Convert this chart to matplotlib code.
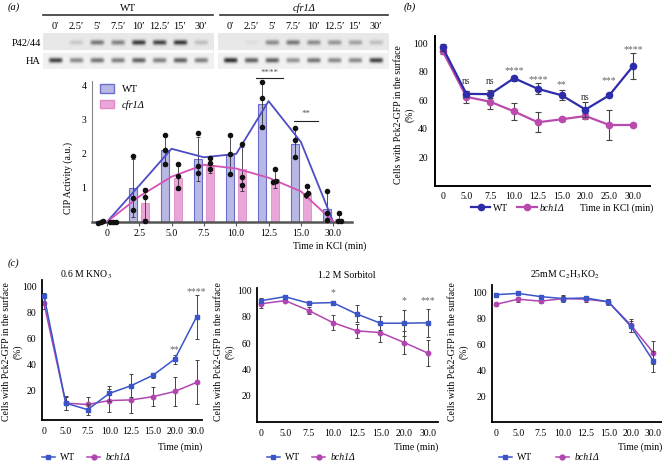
import numpy as np
import matplotlib.pyplot as plt
from matplotlib.patches import Patch
from matplotlib.lines import Line2D
from matplotlib.transforms import blended_transform_factory

plt.rcParams['font.family'] = ['Liberation Serif', 'DejaVu Serif']
plt.rcParams['mathtext.fontset'] = 'stix'
plt.rcParams['font.size'] = 7

# ---- (a) western blot: band darkness per lane (0 = no band)
lane_labels = ["0′", "2.5′", "5′", "7.5′", "10′", "12.5′", "15′", "30′"]
wt_p42 = [0.0, 0.15, 0.55, 0.5, 0.85, 0.8, 0.85, 0.2]
wt_ha = [0.85, 0.5, 0.6, 0.55, 0.7, 0.55, 0.7, 0.55]
ko_p42 = [0.0, 0.05, 0.45, 0.55, 0.45, 0.4, 0.35, 0.2]
ko_ha = [0.95, 0.7, 0.7, 0.45, 0.6, 0.5, 0.5, 0.85]

# ---- (a) CIP activity
cip_times = ["0", "2.5", "5.0", "7.5", "10.0", "12.5", "15.0", "30.0"]
cip_wt_mean = [0.01, 1.0, 2.1, 1.85, 1.97, 3.45, 2.3, 0.38]
cip_wt_err = [0.02, 0.85, 0.45, 0.65, 0.55, 0.72, 0.42, 0.5]
cip_ko_mean = [0.01, 0.55, 1.3, 1.65, 1.55, 1.25, 0.85, 0.08]
cip_ko_err = [0.02, 0.45, 0.35, 0.2, 0.65, 0.25, 0.15, 0.12]
cip_wt_dots = [[-0.02, 0.0, 0.02], [0.35, 0.7, 1.95], [1.7, 2.1, 2.55], [1.45, 1.65, 2.6],
               [1.4, 2.0, 2.55], [2.8, 3.65, 4.1], [1.9, 2.4, 2.75], [0.05, 0.25, 0.9]]
cip_ko_dots = [[-0.01, 0.0, 0.01], [0.03, 0.72, 0.95], [1.0, 1.35, 1.7], [1.55, 1.72, 1.88],
               [1.1, 1.32, 2.3], [1.18, 1.2, 1.55], [0.8, 0.85, 1.05], [0.03, 0.04, 0.27]]
cip_wt_line = [0.0, 1.07, 2.15, 1.9, 2.0, 3.55, 2.35, 0.0]
cip_ko_line = [0.0, 0.75, 1.33, 1.68, 1.57, 1.3, 0.9, 0.02]

# ---- (b) KCl surface localisation
b_times = ["0", "5.0", "7.5", "10.0", "12.5", "15.0", "20.0", "25.0", "30.0"]
b_wt = [97, 64.5, 64.3, 75.5, 68, 63.5, 53.5, 63.5, 84]
b_wt_err = [2.5, 2, 3, 1.8, 3.8, 3.5, 5, 0.5, 9]
b_ko = [94.5, 62.4, 59, 52.2, 44.6, 46.7, 49, 42.7, 42.7]
b_ko_err = [2, 4, 5, 6, 7, 1.5, 2, 10.5, 0]
b_sig = ["", "ns", "ns", "****", "****", "**", "ns", "***", "****"]
b_sig_y = [0, 73, 73, 80.5, 74.7, 71, 61.7, 73.5, 95.4]

# ---- (c) other stresses
c_times = ["0", "5.0", "7.5", "10.0", "12.5", "15.0", "20.0", "30.0"]
kno3_wt = [93, 10, 5, 17.5, 23.5, 31.5, 44, 76.5]
kno3_wt_err = [2, 5, 4, 6, 9, 2, 3.5, 17]
kno3_ko = [87, 10, 9, 12, 12.5, 15, 19, 26]
kno3_ko_err = [4, 5.5, 6, 9, 10, 7.5, 11.5, 17]
kno3_sig = ["", "", "", "", "", "", "**", "****"]
kno3_sig_y = [0, 0, 0, 0, 0, 0, 51, 96]

sorb_wt = [92.4, 95.4, 90.4, 90.9, 82.3, 75.2, 75.2, 75.5]
sorb_wt_err = [2, 1, 1, 1, 6.5, 5.5, 10, 10.5]
sorb_ko = [90, 92.4, 84.8, 75.7, 69.4, 68.1, 60.5, 52.4]
sorb_ko_err = [3, 1, 2.5, 5.5, 5.5, 7, 9, 10]
sorb_sig = ["", "", "", "*", "", "", "*", "***"]
sorb_sig_y = [0, 0, 0, 98.7, 0, 0, 92.4, 92.4]

acet_wt = [98.5, 99.5, 97, 95.5, 96, 93, 74, 47]
acet_wt_err = [1.5, 1.5, 1, 2, 1, 2, 4, 8]
acet_ko = [91, 95, 93.5, 95.5, 95, 93, 75, 53.5]
acet_ko_err = [1, 2, 1.5, 3, 2, 2.5, 5, 9]

W, H = 662, 462
FS = 7
fig = plt.figure(figsize=(W / 100, H / 100), dpi=100)


def box(x0, y0, x1, y1):
    return fig.add_axes([x0 / W, 1 - y1 / H, (x1 - x0) / W, (y1 - y0) / H])


def ftext(x, y, s, **kw):
    return fig.text(x / W, 1 - y / H, s, **kw)


def spread(vals, step=0.08, tol=0.12):
    order = np.argsort(vals)
    offs = np.zeros(len(vals))
    groups, cur = [], [order[0]]
    for a, b in zip(order[:-1], order[1:]):
        if vals[b] - vals[a] < tol:
            cur.append(b)
        else:
            groups.append(cur)
            cur = [b]
    groups.append(cur)
    for g in groups:
        for k, idx in enumerate(g):
            offs[idx] = (k - (len(g) - 1) / 2) * step
    return offs


def draw_blot(x0, x1, p42, ha, header, header_style, line_x0):
    ax = box(x0, 33, x1, 69)
    xs = np.linspace(-0.6, 7.6, 340)
    ys = np.linspace(0, 2, 90)
    X, Y = np.meshgrid(xs, ys)
    img = np.where(Y < 1, 0.91, 0.945)
    for row, vals in enumerate([p42, ha]):
        for lane, v in enumerate(vals):
            img = img - 0.8 * v * np.exp(-((X - lane) / 0.33) ** 6) * np.exp(-((Y - row - 0.52) / 0.14) ** 2)
    ax.imshow(img, cmap='gray', vmin=0, vmax=1, extent=(-0.6, 7.6, 2, 0),
              aspect='auto', interpolation='bilinear')
    ax.axhline(1.0, color='white', lw=2)
    ax.set_xlim(-0.6, 7.6)
    ax.set_ylim(2, 0)
    ax.axis('off')
    tr = blended_transform_factory(ax.transData, ax.transAxes)
    for i, lab in enumerate(lane_labels):
        ax.text(i, 1.175, lab, transform=tr, ha='center', va='center', fontsize=7.5)
    ax.plot([line_x0, 1], [1.5, 1.5], transform=ax.transAxes, color='#333', lw=1.2, clip_on=False)
    ax.text((line_x0 + 1) / 2, 1.69, header, transform=ax.transAxes, ha='center', va='center',
            fontsize=7.5, style=header_style)


def line_handles(c_wt, c_ko, m_wt, m_ko, ms, lw):
    return [Line2D([], [], color=c_wt, marker=m_wt, ms=ms, lw=lw),
            Line2D([], [], color=c_ko, marker=m_ko, ms=ms, lw=lw)]


# ================= (a) =================
ftext(8, 7, "(a)", style='italic', va='center', fontsize=7.5)
draw_blot(43, 213, wt_p42, wt_ha, "WT", 'normal', 0.0)
draw_blot(218, 388, ko_p42, ko_ha, "cfr1Δ", 'italic', 0.012)
ftext(41, 43, "P42/44", ha='right', va='center', fontsize=7.5)
ftext(41, 62, "HA", ha='right', va='center', fontsize=7.5)

A_WT_FACE, A_WT_EDGE, A_WT_LINE = '#b8b8e4', '#6d6dd0', '#4c4cc6'
A_KO_FACE, A_KO_EDGE, A_KO_LINE = '#eaa6d8', '#df8cc7', '#d651b5'

ax = box(92, 81, 352, 222)
x = np.arange(len(cip_times))
ax.bar(x - 0.19, cip_wt_mean, 0.25, color=A_WT_FACE, edgecolor=A_WT_EDGE, lw=0.8, zorder=1)
ax.bar(x + 0.19, cip_ko_mean, 0.25, color=A_KO_FACE, edgecolor=A_KO_EDGE, lw=0.6, zorder=1)
ax.errorbar(x - 0.19, cip_wt_mean, yerr=cip_wt_err, fmt='none', ecolor='#333',
            elinewidth=0.6, capsize=1.5, capthick=0.6, zorder=3)
ax.errorbar(x + 0.19, cip_ko_mean, yerr=cip_ko_err, fmt='none', ecolor='#333',
            elinewidth=0.6, capsize=1.5, capthick=0.6, zorder=3)
ax.plot(x, cip_wt_line, color=A_WT_LINE, lw=1.3, zorder=4)
ax.plot(x, cip_ko_line, color=A_KO_LINE, lw=1.3, zorder=4)
for i in range(len(x)):
    for dots, off in ((cip_wt_dots[i], -0.19), (cip_ko_dots[i], 0.19)):
        ax.scatter(x[i] + off + spread(dots), dots, s=9, color='#111', zorder=5, clip_on=False)
ax.set_xlim(-0.46, 7.58)
ax.set_ylim(0, 4.14)
ax.set_xticks(x, cip_times)
ax.set_yticks([1, 2, 3, 4])
ax.tick_params(axis='x', length=3, width=0.8, color='#555', pad=2, labelsize=FS)
ax.tick_params(axis='y', length=0, pad=4, labelsize=FS)
for s in ('top', 'right'):
    ax.spines[s].set_visible(False)
ax.spines['left'].set_color('#888')
ax.spines['left'].set_linewidth(0.8)
ax.spines['bottom'].set_color('#555')
ax.spines['bottom'].set_linewidth(1.8)
ax.set_facecolor('none')
# significance brackets
ax.plot([4.62, 5.44], [4.24, 4.24], color='#222', lw=0.8, clip_on=False)
ax.text(5.03, 4.37, "****", ha='center', va='center', color='#555', fontsize=6.5)
ax.plot([5.78, 6.54], [2.96, 2.96], color='#222', lw=0.8, clip_on=False)
ax.text(6.16, 3.18, "**", ha='center', va='center', color='#555', fontsize=6.5)
leg = ax.legend(handles=[Patch(facecolor=A_WT_FACE, edgecolor=A_WT_EDGE),
                         Patch(facecolor=A_KO_FACE, edgecolor=A_KO_EDGE)],
                labels=["WT", "cfr1Δ"], loc='upper left', bbox_to_anchor=(100 / W, 1 - 84 / H),
                bbox_transform=fig.transFigure, frameon=False, borderpad=0, borderaxespad=0,
                handlelength=1.3, handleheight=0.9, handletextpad=0.8, labelspacing=0.55, fontsize=7.5)
leg.get_texts()[1].set_fontstyle('italic')
ftext(68, 178, "CIP Activity (a.u.)", rotation=90, ha='center', va='center', fontsize=FS)
ftext(330, 246, "Time in KCl (min)", ha='center', va='center', fontsize=FS)

# ================= (b) =================
ftext(404, 7, "(b)", style='italic', va='center', fontsize=7.5)
B_WT, B_KO = '#2d2daa', '#bb4aad'
ax = box(435, 36, 650, 186)
x = np.arange(len(b_times))
ax.errorbar(x, b_wt, yerr=b_wt_err, color=B_WT, marker='o', ms=4.5, lw=1.6,
            ecolor='#444', elinewidth=0.8, capsize=2, capthick=0.8, zorder=3)
ax.errorbar(x, b_ko, yerr=b_ko_err, color=B_KO, marker='o', ms=4.5, lw=1.6,
            ecolor='#444', elinewidth=0.8, capsize=2, capthick=0.8, zorder=2)
for i, (s, yv) in enumerate(zip(b_sig, b_sig_y)):
    if s:
        ax.text(x[i], yv, s, ha='center', va='center', fontsize=FS,
                color='#333' if s == 'ns' else '#666')
ax.set_xlim(-0.32, 8.71)
ax.set_ylim(0, 105)
ax.set_xticks(x, b_times)
ax.set_yticks([20, 40, 60, 80, 100])
ax.tick_params(length=0, labelsize=FS)
ax.tick_params(axis='y', pad=5)
ax.tick_params(axis='x', pad=4)
for s in ('top', 'right'):
    ax.spines[s].set_visible(False)
for s in ('left', 'bottom'):
    ax.spines[s].set_linewidth(1.4)
leg = ax.legend(handles=line_handles(B_WT, B_KO, 'o', 'o', 4.5, 1.6), labels=["WT", "bch1Δ"],
                loc='center left', bbox_to_anchor=(471 / W, 1 - 208 / H), bbox_transform=fig.transFigure,
                ncol=2, frameon=False, borderpad=0, borderaxespad=0, handlelength=2.0,
                handletextpad=0.3, columnspacing=0.9, fontsize=FS)
leg.get_texts()[1].set_fontstyle('italic')
ftext(653, 208, "Time in KCl (min)", ha='right', va='center', fontsize=FS)
ftext(404, 115, "Cells with Pck2-GFP in the surface\n(%)", rotation=90, ha='center', va='center',
      multialignment='center', linespacing=1.25, fontsize=FS)

# ================= (c) =================
ftext(8, 263, "(c)", style='italic', va='center', fontsize=7.5)
C_WT, C_KO = '#3b55c8', '#b146b1'


def c_panel(x0, x1, ytop, ybot, ylim, xlim, title, title_x, wt, wt_err, ko, ko_err,
            sig, sig_y, leg_x, colsp, ylab_x):
    ax = box(x0, ytop, x1, ybot)
    x = np.arange(len(c_times))
    ax.errorbar(x, wt, yerr=wt_err, color=C_WT, marker='s', ms=3.2, lw=1.1,
                ecolor='#444', elinewidth=0.7, capsize=1.5, capthick=0.7, zorder=3)
    ax.errorbar(x, ko, yerr=ko_err, color=C_KO, marker='o', ms=3.2, lw=1.1,
                ecolor='#444', elinewidth=0.7, capsize=1.5, capthick=0.7, zorder=2)
    for i, (s, yv) in enumerate(zip(sig, sig_y)):
        if s:
            ax.text(x[i], yv, s, ha='center', va='center', fontsize=FS, color='#666')
    ax.set_xlim(*xlim)
    ax.set_ylim(*ylim)
    ax.set_xticks(x, c_times)
    ax.set_yticks([20, 40, 60, 80, 100])
    ax.tick_params(length=0, labelsize=FS)
    ax.tick_params(axis='y', pad=4)
    ax.tick_params(axis='x', pad=5)
    for s in ('top', 'right'):
        ax.spines[s].set_visible(False)
    for s in ('left', 'bottom'):
        ax.spines[s].set_linewidth(1.3)
    leg = ax.legend(handles=line_handles(C_WT, C_KO, 's', 'o', 3.5, 1.1), labels=["WT", "bch1Δ"],
                    loc='center left', bbox_to_anchor=(leg_x / W, 1 - 458 / H),
                    bbox_transform=fig.transFigure, ncol=2, frameon=False, borderpad=0,
                    borderaxespad=0, handlelength=1.3, handletextpad=0.6, columnspacing=colsp,
                    fontsize=FS)
    leg.get_texts()[1].set_fontstyle('italic')
    ftext(title_x, 275, title, ha='center', va='center', fontsize=FS)
    ftext(x1, 447, "Time (min)", ha='right', va='center', fontsize=FS)
    ftext(ylab_x, 352, "Cells with Pck2-GFP in the surface\n(%)", rotation=90, ha='center',
          va='center', multialignment='center', linespacing=1.25, fontsize=FS)


c_panel(42, 202, 280, 420, (-3, 105), (-0.09, 7.25), "0.6 M KNO$_3$", 86,
        kno3_wt, kno3_wt_err, kno3_ko, kno3_ko_err, kno3_sig, kno3_sig_y, 42, 1.2, 12)
c_panel(257, 438, 288, 422, (0, 102), (-0.18, 7.42), "1.2 M Sorbitol", 347,
        sorb_wt, sorb_wt_err, sorb_ko, sorb_ko_err, sorb_sig, sorb_sig_y, 267, 1.2, 224)
c_panel(492, 662, 285, 422, (0, 106), (-0.16, 7.38), "25mM C$_2$H$_3$KO$_2$", 565,
        acet_wt, acet_wt_err, acet_ko, acet_ko_err, [""] * 8, [0] * 8, 499, 2.4, 458)

fig.savefig("out.png", dpi=100)
